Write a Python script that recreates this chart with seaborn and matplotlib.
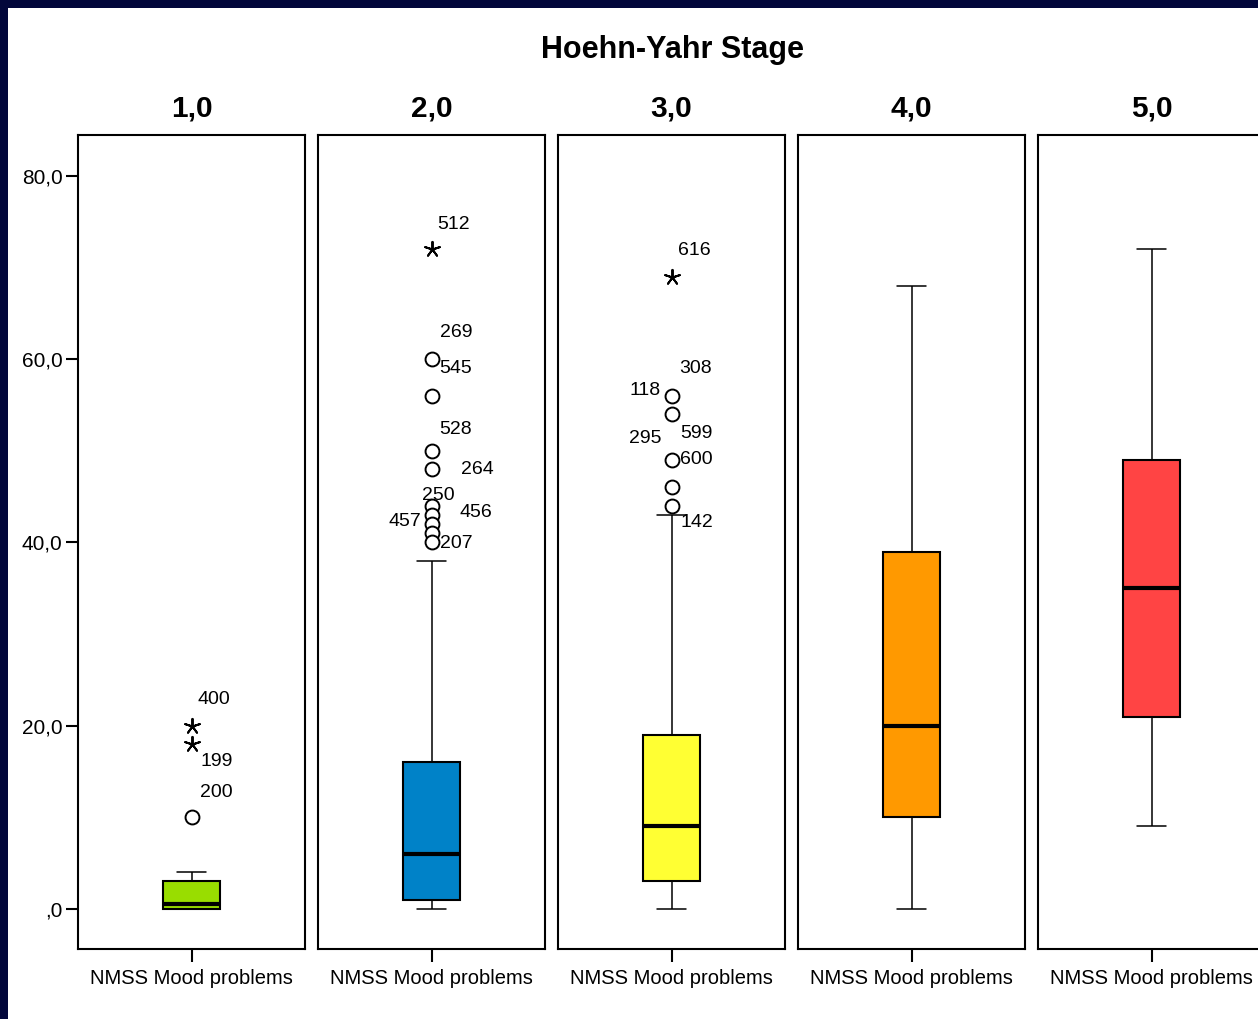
"""NMSS mood problems by Hoehn-Yahr stage, one boxplot panel per stage."""
import matplotlib
matplotlib.use("Agg")
import matplotlib.pyplot as plt
import pandas as pd
import seaborn as sns

STAGES = ["1,0", "2,0", "3,0", "4,0", "5,0"]
ITEM = "NMSS Mood problems"
COLORS = ["#99dd00", "#0082c8", "#ffff33", "#ff9900", "#ff4444"]

# five-number summaries
whisker_low = [0, 0, 0, 0, 9]
q1 = [0, 1, 3, 10, 21]
median = [0.5, 6, 9, 20, 35]
q3 = [3, 16, 19, 39, 49]
whisker_high = [4, 38, 43, 68, 72]

# outliers (circles) and extremes (stars)
outliers = [[10], [60, 56, 50, 48, 44, 43, 42, 41, 40], [56, 54, 49, 46, 44], [], []]
extremes = [[20, 18], [72], [69], [], []]

# case labels: panel, case id, value of the point it sits next to
case_stage = [0, 0, 0, 1, 1, 1, 1, 1, 1, 1, 1, 1, 2, 2, 2, 2, 2, 2, 2]
case_ids = ["400", "199", "200", "512", "269", "545", "528", "264", "250", "457",
            "456", "207", "616", "308", "118", "295", "599", "600", "142"]
case_values = [20, 18, 10, 72, 60, 60, 50, 48, 44, 42, 43, 40, 69, 56, 56, 54, 49, 49, 44]
# label offset from its point, pixels
case_dx = [22.5, 25, 24.5, 22, 24.5, 24.5, 24.5, 46, 6.5, -27, 44.5, 25,
           22.5, 24.5, -26.5, -26.5, 24.5, 24.5, 25]
case_dy = [26, -17, 25, 25, 27, -9, 21, 0, 10, 3, 2, -1, 26, 27, 5, -24, 26, 0, -17]

YTICKS = [0, 20, 40, 60, 80]
YTICKLABELS = [",0", "20,0", "40,0", "60,0", "80,0"]

W, H = 1258, 1019

sns.set_style("ticks")
plt.rcParams["font.family"] = ["Liberation Sans", "DejaVu Sans"]
plt.rcParams["text.color"] = "black"
plt.rcParams["xtick.color"] = "black"
plt.rcParams["ytick.color"] = "black"

rows = []
for i, s in enumerate(STAGES):
    for v in (whisker_low[i], q1[i], median[i], q3[i], whisker_high[i]):
        rows.append({"stage": s, "item": ITEM, "value": v})
data = pd.DataFrame(rows)

fig = plt.figure(figsize=(W / 100, H / 100), dpi=100)
fig.set_facecolor("#02073b")
fig.add_artist(plt.Rectangle((8 / W, 0), 1, 1 - 8 / H, transform=fig.transFigure,
                             facecolor="white", edgecolor="none", zorder=-10))

fig.text(672.5 / W, 1 - 50 / H, "Hoehn-Yahr Stage", ha="center", va="center",
         fontsize=22, fontweight="bold")

top, bottom = 135, 949
for i, s in enumerate(STAGES):
    left = 78 + 240 * i
    ax = fig.add_axes([left / W, 1 - bottom / H, 227 / W, (bottom - top) / H])
    sub = data[data.stage == s]
    sns.boxplot(
        data=sub, x="item", y="value", ax=ax,
        color=COLORS[i], saturation=1, width=0.25, whis=(0, 100),
        showfliers=False, linecolor="black", linewidth=1.5,
        medianprops=dict(linewidth=3, color="black"),
        whiskerprops=dict(linewidth=1.1),
        capprops=dict(linewidth=1.1),
    )
    if outliers[i]:
        sns.stripplot(x=[ITEM] * len(outliers[i]), y=outliers[i], ax=ax, jitter=False,
                      marker="o", size=10, color="white", edgecolor="black",
                      linewidth=1.4, zorder=5)
    if extremes[i]:
        sns.stripplot(x=[ITEM] * len(extremes[i]), y=extremes[i], ax=ax, jitter=False,
                      marker=(5, 2, 0), size=11, color="black", edgecolor="black",
                      linewidth=1.4, zorder=5)
    for st, cid, v, dx, dy in zip(case_stage, case_ids, case_values, case_dx, case_dy):
        if st == i:
            ax.annotate(cid, (0, v), xytext=(dx, dy), textcoords="offset pixels",
                        ha="center", va="center", fontsize=14)

    ax.set_xlim(-0.5, 0.5)
    ax.set_ylim(-4.37, 84.47)
    ax.set_xlabel("")
    ax.set_ylabel("")
    ax.set_facecolor("white")
    for sp in ax.spines.values():
        sp.set_visible(True)
        sp.set_linewidth(1.5)
        sp.set_color("black")
    ax.tick_params(axis="x", length=9.4, width=1.5, pad=5, labelsize=14.5)
    if i == 0:
        ax.set_yticks(YTICKS)
        ax.set_yticklabels(YTICKLABELS)
        ax.tick_params(axis="y", length=8.6, width=1.5, pad=2.5, labelsize=15)
    else:
        ax.set_yticks([])
    ax.text(0.5, 1 + 26 / (bottom - top), s, transform=ax.transAxes, ha="center",
            va="center", fontsize=21.5, fontweight="bold")

fig.savefig("out.png", dpi=100)
